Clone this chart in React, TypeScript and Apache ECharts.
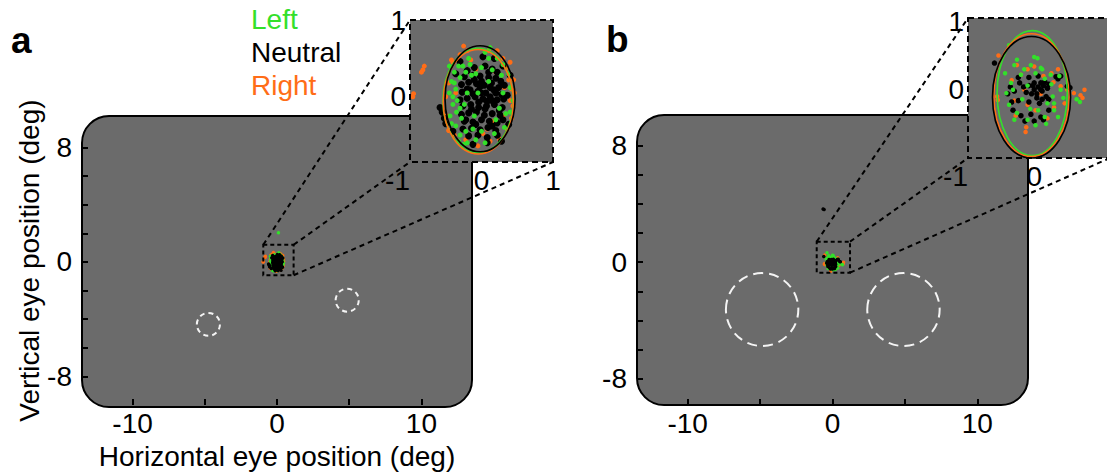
import React, { useEffect, useRef } from "react";
import * as echarts from "echarts";

// ---------- colours ----------
const GREEN = "#33e02a";
const ORANGE = "#ff6d17";
const BLACK = "#000000";
const GRAY = "#6b6b6b";
const FONT = "Liberation Sans, Arial, Helvetica, sans-serif";

// ---------- labels / ticks ----------
const legendLabels = ["Left", "Neutral", "Right"];
const legendColors = [GREEN, BLACK, ORANGE];
const panelLetters = ["a", "b"];
const xTitle = "Horizontal eye position (deg)";
const yTitle = "Vertical eye position (deg)";
const mainXTicks = [-10, -5, 0, 5, 10];
const mainXLabels = [-10, 0, 10];
const mainYTicks = [-8, -6, -4, -2, 0, 2, 4, 6, 8];
const mainYLabels = [-8, 0, 8];
const insetAXLabels = [-1, 0, 1];
const insetBXLabels = [-1, 0];
const insetYLabels = [0, 1];

// ---------- data: panel a (deg) ----------
const aNeutral = [
  [-0.1, 0.38], [0.05, 0.4], [0.15, 0.36], [-0.2, 0.34], [0.22, 0.32],
  [-0.24, 0.26], [-0.12, 0.28], [-0.02, 0.27], [0.1, 0.25], [0.2, 0.24], [0.27, 0.2],
  [-0.28, 0.16], [-0.18, 0.19], [-0.07, 0.17], [0.04, 0.15], [0.14, 0.18], [0.24, 0.12], [0.32, 0.15],
  [-0.27, 0.06], [-0.16, 0.09], [-0.05, 0.07], [0.06, 0.05], [0.17, 0.09], [0.28, 0.03],
  [-0.3, -0.04], [-0.2, -0.02], [-0.09, 0.0], [0.02, -0.03], [0.12, 0.0], [0.22, -0.04], [0.31, -0.03],
  [-0.26, -0.12], [-0.15, -0.1], [-0.04, -0.14], [0.07, -0.12], [0.18, -0.1], [0.29, -0.14],
  [-0.28, -0.23], [-0.18, -0.21], [-0.07, -0.2], [0.04, -0.24], [0.15, -0.22], [0.26, -0.24],
  [-0.24, -0.32], [-0.12, -0.33], [0.0, -0.3], [0.11, -0.32], [0.22, -0.34], [0.3, -0.3],
  [-0.26, -0.42], [-0.14, -0.41], [-0.02, -0.43], [0.09, -0.4], [0.2, -0.44],
  [-0.18, -0.51], [-0.05, -0.5], [0.08, -0.53], [0.22, -0.5],
  [0.0, 0.05], [0.08, -0.06], [-0.04, -0.07], [0.12, 0.12], [-0.12, 0.04], [0.05, -0.16],
  [0.15, -0.05], [-0.02, 0.13], [0.2, 0.05], [-0.14, -0.16], [-0.1, 0.22], [0.1, 0.32],
  [-0.2, 0.1], [0.25, -0.18], [-0.22, -0.3], [0.15, -0.38], [-0.08, -0.36], [0.0, 0.2],
  [-0.55, -0.2], [-0.52, -0.28], [-0.58, -0.14], [-0.5, -0.35], [0.02, 0.52], [-0.3, 0.46],
  [0.18, 0.5], [0.38, -0.36], [0.4, 0.28], [0.28, -0.58], [-0.12, -0.62], [-0.4, -0.45],
  [0.36, 0.02], [-0.36, 0.3], [0.08, -0.6], [0.3, 0.4],
];
const aLeft = [
  [-0.42, 0.2], [-0.45, 0.05], [-0.4, -0.1], [-0.38, 0.32], [-0.44, -0.25], [-0.36, -0.38],
  [-0.3, -0.5], [-0.32, -0.58], [-0.25, -0.62], [-0.36, 0.1], [-0.3, 0.25], [-0.26, 0.4],
  [-0.18, 0.5], [-0.24, -0.1], [-0.28, -0.28], [-0.2, 0.05], [-0.14, 0.28], [-0.1, -0.25],
  [0.0, 0.38], [0.05, 0.58], [0.12, 0.64], [0.22, 0.5], [0.3, 0.42], [0.38, 0.3], [0.4, 0.12],
  [0.44, -0.05], [0.4, -0.2], [0.32, -0.4], [0.18, -0.48], [0.05, -0.6], [-0.08, -0.56],
  [0.1, 0.2], [0.2, -0.3], [-0.05, 0.05], [0.3, 0.05], [-0.45, 0.4], [-0.35, -0.2],
  [0.15, 0.35], [0.25, -0.15], [-0.12, -0.42], [-0.4, 0.0], [-0.34, -0.05], [-0.38, 0.18],
  [-0.32, 0.4], [-0.22, 0.32], [-0.42, -0.35], [-0.22, -0.45], [-0.3, -0.15], [-0.16, 0.42],
  [-0.08, 0.3], [0.1, 0.5], [-0.2, -0.6], [0.28, 0.28], [0.34, -0.22], [0.0, -0.45],
  [0.1, 2.05],
];
const aRight = [
  [-0.25, 0.66], [-0.2, 0.6], [-0.3, 0.55], [0.1, 0.6], [0.22, 0.6], [0.3, 0.5], [0.4, 0.45],
  [0.45, 0.22], [0.46, 0.05], [0.44, -0.12], [0.42, -0.28], [0.36, -0.42], [0.25, -0.55],
  [0.12, -0.58], [-0.05, -0.64], [-0.22, -0.56], [-0.38, -0.5], [-0.46, -0.44], [-0.48, -0.25],
  [-0.5, 0.0], [-0.46, 0.18], [-0.4, 0.45], [-0.42, 0.48], [-0.82, 0.35], [-0.8, 0.4],
  [-0.84, 0.32], [-0.96, 0.0], [-0.95, 0.04], [0.2, 0.32], [0.32, 0.12], [-0.22, -0.3],
  [0.08, -0.42], [-0.08, 0.36], [0.3, -0.25], [-0.36, 0.05], [0.35, 0.38], [0.02, -0.48],
  [-0.15, 0.48], [0.15, -0.32], [0.42, 0.1], [0.4, -0.05], [0.38, 0.22],
];

// ---------- data: panel b (deg) ----------
const bNeutral = [
  [0.0, 0.0], [0.06, 0.04], [0.12, -0.02], [-0.04, -0.06], [0.04, -0.12], [0.14, 0.06], [-0.08, 0.06],
  [0.1, 0.1], [0.18, -0.1], [0.0, 0.1], [-0.12, -0.04], [0.2, 0.02], [0.08, -0.2], [-0.08, -0.18],
  [0.16, 0.12], [-0.16, 0.04], [0.22, 0.08], [0.22, -0.14], [0.04, -0.06], [0.1, 0.0], [-0.02, 0.06],
  [0.12, -0.14], [-0.24, -0.16], [-0.3, -0.02], [-0.4, -0.06], [-0.36, 0.04], [-0.32, -0.3],
  [-0.2, -0.38], [-0.05, -0.36], [0.1, -0.4], [0.0, -0.46], [-0.14, -0.46], [0.33, 0.19], [0.4, 0.2],
  [0.36, 0.16], [0.54, 0.03], [0.5, 0.05], [-0.6, 0.39], [-0.24, 0.18], [0.06, 0.2], [-0.08, 0.18],
  [0.22, -0.3], [-0.34, -0.18], [0.14, -0.44], [-0.22, 0.1], [-0.65, 3.65], [-0.58, 3.62],
];
const bLeft = [
  [-0.38, 0.65], [0.0, 0.48], [0.05, 0.46], [-0.3, 0.36], [-0.15, 0.3], [0.1, 0.32], [0.25, 0.22],
  [-0.35, 0.1], [-0.42, -0.05], [0.4, 0.0], [0.44, -0.12], [0.3, -0.3], [0.16, -0.4], [0.02, -0.52],
  [-0.1, -0.44], [-0.26, -0.34], [-0.38, -0.22], [-0.1, 0.06], [0.16, 0.16], [0.02, 0.24],
  [0.28, -0.1], [-0.18, -0.14], [0.2, -0.2], [-0.3, -0.44], [0.06, -0.3], [0.36, -0.4], [-0.2, 0.22],
  [0.12, 0.3], [-0.26, 0.44], [0.38, 0.2], [0.69, -0.18], [0.64, -0.14], [-0.44, 0.24], [0.26, 0.08],
  [-0.06, -0.28], [0.3, -0.2], [-0.05, 0.36], [0.18, -0.5], [-0.32, 0.0],
];
const bRight = [
  [-0.26, 0.36], [-0.1, 0.3], [0.0, 0.34], [0.14, 0.2], [-0.2, 0.22], [0.29, 0.11], [0.4, 0.05],
  [0.5, 0.0], [0.6, -0.05], [0.73, -0.12], [0.7, -0.08], [0.76, 0.0], [-0.13, -0.62], [-0.12, -0.55],
  [0.2, -0.42], [0.3, -0.26], [-0.28, -0.38], [-0.55, -0.15], [-0.56, -0.1], [0.1, -0.06],
  [-0.15, 0.0], [0.26, 0.24], [-0.3, -0.16], [0.46, -0.2], [-0.1, -0.22], [0.02, -0.3],
  [-0.34, 0.14], [0.36, 0.3], [-0.54, 0.5],
];

// ---------- fitted ellipses [cx, cy, rx, ry] (deg) ----------
const aEllipseLeft = [[-0.05, -0.05, 0.49, 0.68]];
const aEllipseRight = [[-0.045, -0.065, 0.49, 0.68]];
const aEllipseNeutral = [[-0.02, -0.026, 0.49, 0.69]];
const bEllipseLeft = [[-0.03, -0.05, 0.53, 0.915]];
const bEllipseRight = [[-0.04, -0.08, 0.57, 0.9]];
const bEllipseNeutral = [[-0.04, -0.11, 0.59, 0.89]];

// ---------- saccade targets [cx, cy, r] (deg) ----------
const aTargets = [[-4.75, -4.36, 0.8], [4.86, -2.67, 0.8]];
const bTargets = [[-4.86, -3.25, 2.5], [4.9, -3.25, 2.5]];

// ---------- zoom windows [x0, y0, x1, y1] (deg) ----------
const aZoomBox = [[-0.95, -0.93, 1.15, 1.2]];
const bZoomBox = [[-1.09, -0.72, 1.21, 1.41]];

function App() {
  const ref = useRef<HTMLDivElement>(null);
  useEffect(() => {
    document.body.style.margin = "0";
    const chart = echarts.init(ref.current!, undefined, { renderer: "svg" });

    const G = [
      { left: 82, top: 116, width: 390, height: 291 },
      { left: 410, top: 20, width: 143, height: 142 },
      { left: 637, top: 115, width: 391, height: 290 },
      { left: 968, top: 18, width: 142, height: 140 },
    ];
    const ranges = [
      { x: [-13.5, 13.5], y: [-10, 10.2] },
      { x: [-1, 1], y: [-0.85, 1.0] },
      { x: [-13.5, 13.5], y: [-9.8, 10.1] },
      { x: [-1, 1.1], y: [-1, 1.05] },
    ];
    const labelStyle = { fontSize: 28, color: "#000", fontFamily: FONT };

    const xAxis = G.map((_, i) => {
      const main = i % 2 === 0;
      return {
        gridIndex: i,
        type: "value",
        min: ranges[i].x[0],
        max: ranges[i].x[1],
        splitLine: { show: false },
        axisLine: { show: false, onZero: false },
        axisTick: main
          ? { show: true, inside: true, length: 6, lineStyle: { color: "#000", width: 2 }, customValues: mainXTicks }
          : { show: false },
        axisLabel: {
          ...labelStyle,
          margin: 4,
          customValues: main ? mainXLabels : i === 1 ? insetAXLabels : insetBXLabels,
          alignMinLabel: main ? "center" : "right",
        },
        name: i === 0 ? xTitle : "",
        nameLocation: "middle",
        nameGap: 35,
        nameTextStyle: labelStyle,
        z: main ? 5 : 12,
      };
    });
    const yAxis = G.map((_, i) => {
      const main = i % 2 === 0;
      return {
        gridIndex: i,
        type: "value",
        min: ranges[i].y[0],
        max: ranges[i].y[1],
        splitLine: { show: false },
        axisLine: { show: false, onZero: false },
        axisTick: main
          ? { show: true, inside: true, length: 6, lineStyle: { color: "#000", width: 2 }, customValues: mainYTicks }
          : { show: false },
        axisLabel: {
          ...labelStyle,
          margin: main ? 10 : 4,
          customValues: main ? mainYLabels : insetYLabels,
        },
        name: i === 0 ? yTitle : "",
        nameLocation: "middle",
        nameGap: 38,
        nameTextStyle: labelStyle,
        z: main ? 5 : 12,
      };
    });

    const scatter = (name: string, data: number[][], idx: number, color: string, size: number) => ({
      type: "scatter",
      name,
      xAxisIndex: idx,
      yAxisIndex: idx,
      data,
      symbolSize: size,
      clip: true,
      silent: true,
      itemStyle: { color, opacity: 1 },
      z: 3,
    });
    const ellipse = (data: number[][], idx: number, color: string) => ({
      type: "custom",
      xAxisIndex: idx,
      yAxisIndex: idx,
      data,
      silent: true,
      z: 4,
      renderItem: (params: any, api: any) => {
        const c = api.coord([api.value(0), api.value(1)]);
        const s = api.size([api.value(2), api.value(3)]);
        return {
          type: "ellipse",
          shape: { cx: c[0], cy: c[1], rx: s[0], ry: s[1] },
          style: { fill: "none", stroke: color, lineWidth: 1.6 },
        };
      },
    });
    const dashed = { stroke: "#000", lineWidth: 2, lineDash: [5, 4], fill: "none" };
    // zoom window in the main panel + connectors to the inset frame corners
    const zoomWindow = (data: number[][], idx: number, inset: { left: number; top: number; width: number; height: number }) => ({
      type: "custom",
      xAxisIndex: idx,
      yAxisIndex: idx,
      data,
      silent: true,
      clip: false,
      z: 9,
      renderItem: (params: any, api: any) => {
        const tl = api.coord([api.value(0), api.value(3)]);
        const br = api.coord([api.value(2), api.value(1)]);
        const iTL = [inset.left, inset.top];
        const iBL = [inset.left, inset.top + inset.height];
        const iBR = [inset.left + inset.width, inset.top + inset.height];
        const seg = (a: number[], b: number[]) => ({
          type: "line",
          shape: { x1: a[0], y1: a[1], x2: b[0], y2: b[1] },
          style: { ...dashed },
        });
        return {
          type: "group",
          children: [
            {
              type: "rect",
              shape: { x: tl[0], y: tl[1], width: br[0] - tl[0], height: br[1] - tl[1] },
              style: { ...dashed, lineDash: [4, 3] },
            },
            seg(tl, iTL),
            seg([br[0], tl[1]], iBL),
            seg(br, iBR),
          ],
        };
      },
    });

    const series: any[] = [];
    const panels = [
      { m: 0, n: 1, L: aLeft, N: aNeutral, R: aRight, eL: aEllipseLeft, eN: aEllipseNeutral, eR: aEllipseRight, t: aTargets, box: aZoomBox, dash: [5, 4], sc: 5, sn: 7 },
      { m: 2, n: 3, L: bLeft, N: bNeutral, R: bRight, eL: bEllipseLeft, eN: bEllipseNeutral, eR: bEllipseRight, t: bTargets, box: bZoomBox, dash: [10, 6], sc: 4.5, sn: 5.5 },
    ];
    panels.forEach((p) => {
      series.push(scatter("Right", p.R, p.m, ORANGE, 3.5));
      series.push(scatter("Left", p.L, p.m, GREEN, 3.5));
      series.push(scatter("Neutral", p.N, p.m, BLACK, 3.5));
      series.push({
        type: "custom",
        xAxisIndex: p.m,
        yAxisIndex: p.m,
        data: p.t,
        silent: true,
        z: 4,
        renderItem: (params: any, api: any) => {
          const c = api.coord([api.value(0), api.value(1)]);
          const s = api.size([api.value(2), api.value(2)]);
          return {
            type: "ellipse",
            shape: { cx: c[0], cy: c[1], rx: s[0], ry: s[1] },
            style: { fill: "none", stroke: "#f4f4f4", lineWidth: 2, lineDash: p.dash },
          };
        },
      });
      series.push(zoomWindow(p.box, p.m, G[p.n]));
      series.push(scatter("Right", p.R, p.n, ORANGE, p.sc));
      series.push(scatter("Neutral", p.N, p.n, BLACK, p.sn));
      series.push(scatter("Left", p.L, p.n, GREEN, p.sc));
      series.push(ellipse(p.eL, p.n, GREEN));
      series.push(ellipse(p.eR, p.n, ORANGE));
      series.push(ellipse(p.eN, p.n, BLACK));
    });

    // static graphics (panel backgrounds, inset frames, texts)
    const graphic: any[] = [];
    [0, 2].forEach((gi) => {
      const g = G[gi];
      graphic.push({
        id: "bg" + gi,
        type: "rect",
        shape: { x: g.left, y: g.top, width: g.width, height: g.height, r: 27 },
        style: { fill: GRAY, stroke: "#000", lineWidth: 2 },
        z: -1,
        silent: true,
      });
      const ig = G[gi + 1];
      graphic.push({
        id: "ibg" + gi,
        type: "rect",
        shape: { x: ig.left, y: ig.top, width: ig.width, height: ig.height },
        style: { fill: GRAY },
        z: 1,
        silent: true,
      });
      graphic.push({
        id: "iframe" + gi,
        type: "rect",
        shape: { x: ig.left, y: ig.top, width: ig.width, height: ig.height },
        style: { stroke: "#000", lineWidth: 2, lineDash: [6, 4], fill: "none" },
        z: 10,
        silent: true,
      });
    });
    [
      [11, 40],
      [606, 39],
    ].forEach((pos, i) =>
      graphic.push({
        type: "text",
        x: pos[0],
        y: pos[1],
        style: {
          text: panelLetters[i],
          fill: "#000",
          fontSize: 37,
          fontWeight: "bold",
          fontFamily: FONT,
          textAlign: "left",
          textVerticalAlign: "middle",
        },
        z: 20,
      })
    );
    legendLabels.forEach((t, i) =>
      graphic.push({
        type: "text",
        x: 251,
        y: 19 + i * 33,
        style: {
          text: t,
          fill: legendColors[i],
          fontSize: 28,
          fontFamily: FONT,
          textAlign: "left",
          textVerticalAlign: "middle",
        },
        z: 20,
      })
    );

    chart.setOption({
      animation: false,
      backgroundColor: "#ffffff",
      grid: G.map((g) => ({ ...g, containLabel: false, show: false })),
      xAxis,
      yAxis,
      series,
      graphic,
    });
    return () => chart.dispose();
  }, []);
  return <div ref={ref} style={{ width: 1107, height: 475 }} />;
}

export default App;
